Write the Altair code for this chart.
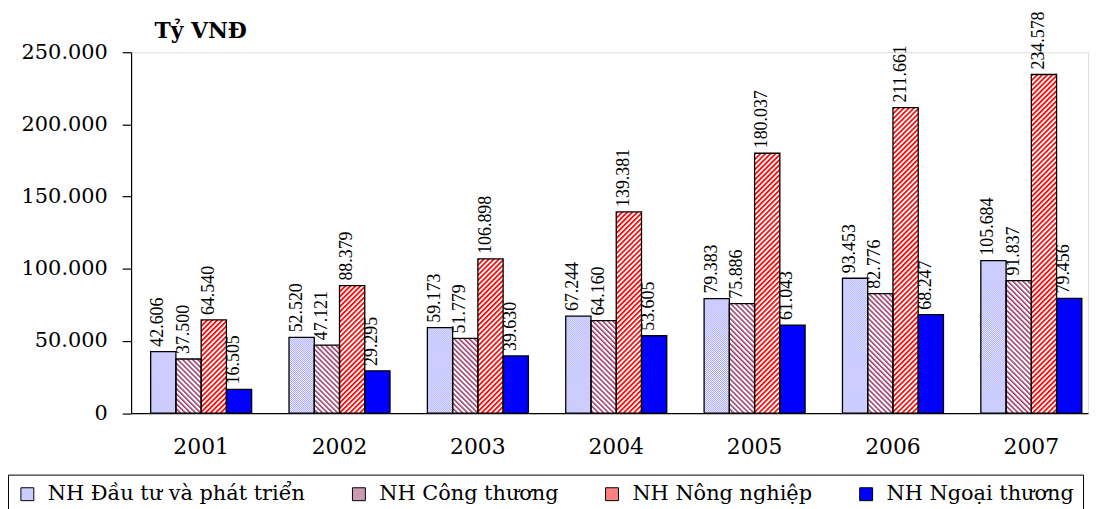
import base64
import altair as alt
import pandas as pd

YEARS = ["2001", "2002", "2003", "2004", "2005", "2006", "2007"]
SERIES = ["NH Đầu tư và phát triển", "NH Công thương", "NH Nông nghiệp", "NH Ngoại thương"]
DTPT = [42606, 52520, 59173, 67244, 79383, 93453, 105684]
CT = [37500, 47121, 51779, 64160, 75886, 82776, 91837]
NN = [64540, 88379, 106898, 139381, 180037, 211661, 234578]
NT = [16505, 29295, 39630, 53605, 61043, 68247, 79456]
Y_TICKS = [0, 50000, 100000, 150000, 200000, 250000]
UNIT = "Tỷ VNĐ"

rows = []
for s, vals in zip(SERIES, [DTPT, CT, NN, NT]):
    for yr, v in zip(YEARS, vals):
        rows.append({"year": yr, "series": s, "value": v})
df = pd.DataFrame(rows)

SOLID = ["#ccccff", "#cc99b3", "#ff8080", "#0000ff"]


def svg_url(body):
    svg = '<svg xmlns="http://www.w3.org/2000/svg">' + body + '</svg>'
    return "data:image/svg+xml;base64," + base64.b64encode(svg.encode("utf-8")).decode("ascii")


def stripes(color, angle, period, w):
    return svg_url(
        f'<defs><pattern id="p" patternUnits="userSpaceOnUse" width="{period}" height="{period}" '
        f'patternTransform="rotate({angle})"><rect width="{period}" height="{period}" fill="#ffffff"/>'
        f'<rect width="{w}" height="{period}" fill="{color}"/></pattern></defs>'
        '<rect width="100%" height="100%" fill="url(#p)"/>'
    )


DOTS = svg_url(
    '<defs><pattern id="p" patternUnits="userSpaceOnUse" width="2" height="2">'
    '<rect width="2" height="2" fill="#ffffff"/><rect width="1" height="1" fill="#9999ff"/>'
    '<rect x="1" y="1" width="1" height="1" fill="#9999ff"/></pattern></defs>'
    '<rect width="100%" height="100%" fill="url(#p)"/>'
)
PLUM = stripes("#993366", -45, 3.6, 1.5)
RED = stripes("#ff0000", 45, 3.6, 1.7)

LBL = "replace(format(datum.value, ','), regexp(',', 'g'), '.')"

base = alt.Chart(df).encode(
    x=alt.X(
        "year:N",
        sort=YEARS,
        scale=alt.Scale(paddingInner=0.27, paddingOuter=0.093, align=0.76),
        axis=alt.Axis(
            title=None, ticks=False, tickSize=0, labelAngle=0, labelPadding=24,
            labelFont="DejaVu Serif", labelFontSize=22, labelColor="black",
            domainColor="black", domainWidth=1.2,
        ),
    ),
    xOffset=alt.XOffset("series:N", sort=SERIES, scale=alt.Scale(paddingInner=0, paddingOuter=0)),
    y=alt.Y(
        "value:Q",
        scale=alt.Scale(domain=[0, 250000], nice=False),
        axis=alt.Axis(
            title=UNIT, titleAngle=0, titleX=23, titleY=-14.7, titleAlign="left",
            titleBaseline="alphabetic", titleFont="DejaVu Serif", titleFontSize=22,
            titleFontWeight="bold", titleColor="black",
            values=Y_TICKS, grid=False, tickSize=9, tickColor="black", tickWidth=1.2,
            labelPadding=15, labelFont="DejaVu Serif", labelFontSize=21, labelColor="black",
            labelExpr=LBL, domainColor="black", domainWidth=1.2,
        ),
    ),
)

fills = base.mark_bar().encode(
    color=alt.Color(
        "series:N",
        sort=SERIES,
        scale=alt.Scale(domain=SERIES, range=SOLID),
        legend=alt.Legend(
            title=None, orient="none", legendX=-124, legendY=425.5, direction="horizontal",
            symbolType="square", symbolSize=169, symbolStrokeColor="black", symbolStrokeWidth=1,
            labelFont="DejaVu Serif", labelFontSize=21, labelColor="black", labelLimit=600,
            columnPadding=43, labelOffset=10, strokeColor="black", padding=9, fillColor="white",
        ),
    )
)

imgs = [
    base.mark_image(aspect=False)
    .encode(y2=alt.datum(0), url=alt.value(u))
    .transform_filter(alt.datum.series == s)
    for s, u in zip(SERIES[:3], [DOTS, PLUM, RED])
]

outline = base.mark_bar(fillOpacity=0, stroke="black", strokeWidth=1.3)

labels = base.mark_text(
    angle=270, align="left", baseline="alphabetic", dx=5,
    font="Liberation Serif", fontSize=18, color="black",
).encode(text="label:N").transform_calculate(label=LBL)

chart = (
    alt.layer(fills, *imgs, outline, labels)
    .properties(
        width=964,
        height=363.6,
        autosize=alt.AutoSizeParams(type="none"),
        padding={"left": 124, "top": 42.7, "right": 1, "bottom": 94.7},
    )
    .configure_view(strokeWidth=0)
    .configure(background="white")
)

chart.save("out.html", embed_options={"renderer": "svg", "actions": False})
